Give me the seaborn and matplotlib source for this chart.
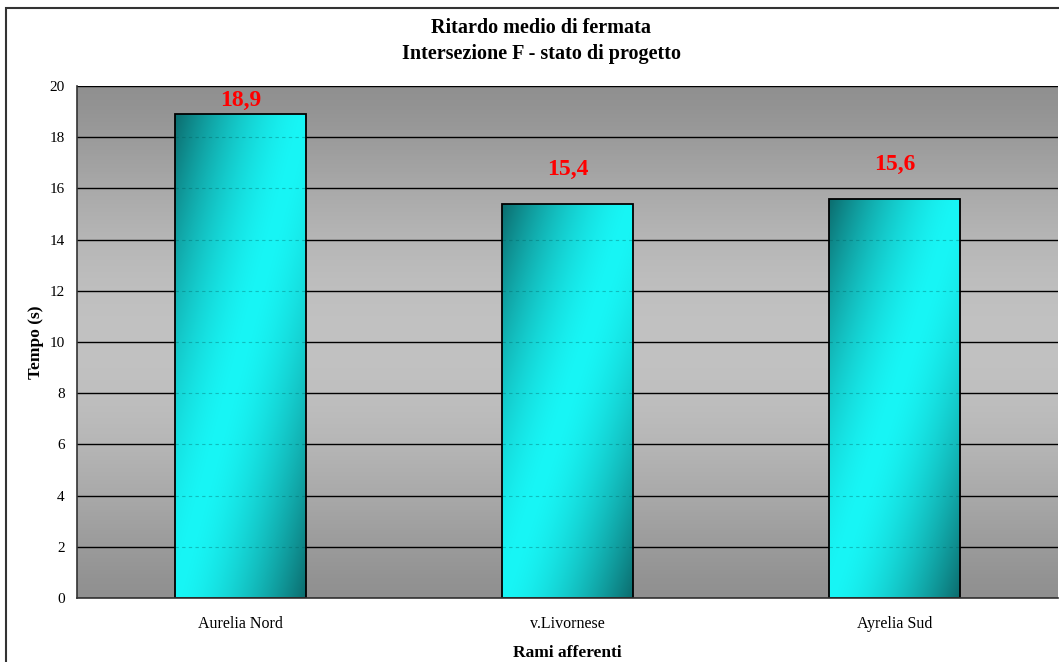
import numpy as np
import pandas as pd
import seaborn as sns
import matplotlib
matplotlib.use('Agg')
import matplotlib.pyplot as plt
from matplotlib.patches import Rectangle


categories = ['Aurelia Nord', 'v.Livornese', 'Ayrelia Sud']
values = [18.9, 15.4, 15.6]
value_labels = ['18,9', '15,4', '15,6']
y_ticks = list(range(0, 21, 2))

title = 'Ritardo medio di fermata\nIntersezione F - stato di progetto'
x_label = 'Rami afferenti'
y_label = 'Tempo (s)'


def bar_gradient(n=200):
    # diagonal gradient: dark top-left and bottom-right, light in the middle
    dark = np.array([0x0c, 0x6c, 0x6e]) / 255
    light = np.array([0x18, 0xf6, 0xf6]) / 255
    x = np.linspace(0, 1, n)
    y = np.linspace(1, 0, n)  # row 0 is the top
    xx, yy = np.meshgrid(x, y)
    d = np.clip(np.abs(xx - yy), 0, 1) ** 1.6
    return light + (dark - light) * d[..., None]


def bg_gradient(n=256):
    # vertical gray gradient, darker at top and bottom
    t = np.linspace(0, 1, n)
    g = 0.565 + (0.76 - 0.565) * np.sin(np.pi * t) ** 1.3
    return np.repeat(g[:, None, None], 3, axis=2).repeat(2, axis=1)


df = pd.DataFrame({'ramo': categories, 'tempo': values})

sns.set_theme(style='white')
plt.rcParams['font.family'] = ['Liberation Serif', 'DejaVu Serif']
plt.rcParams['text.color'] = 'black'
plt.rcParams['axes.labelcolor'] = 'black'
plt.rcParams['xtick.color'] = 'black'
plt.rcParams['ytick.color'] = 'black'

fig = plt.figure(figsize=(10.59, 6.62), dpi=100)
ax = fig.add_axes([77 / 1059, 1 - 598 / 662, 981 / 1059, 512 / 662])

sns.barplot(data=df, x='ramo', y='tempo', color='cyan', width=0.4,
            edgecolor='black', linewidth=1.3, ax=ax, zorder=2)

ax.set_ylim(0, 20)
ax.set_xlim(-0.5, len(categories) - 0.5)
ax.patch.set_visible(False)
ax.imshow(bg_gradient(), extent=[0, 1, 0, 1], transform=ax.transAxes,
          aspect='auto', zorder=0.1)

# gradient fill for each bar, clipped to the bar
grad = bar_gradient()
for p in ax.patches:
    x0, y0 = p.get_x(), p.get_y()
    w, h = p.get_width(), p.get_height()
    p.set_facecolor('none')
    im = ax.imshow(grad, extent=[x0, x0 + w, y0, y0 + h], aspect='auto',
                   zorder=1.5, interpolation='bilinear')
    im.set_clip_path(p)
    hl = ax.hlines(y_ticks[1:], x0, x0 + w, colors=(0, 0.35, 0.35, 0.35),
                   linestyles=(0, (3, 3)), linewidth=0.8, zorder=1.6)
    hl.set_clip_path(p)

# value labels above bars, kept inside the plot area
for i, (v, lab) in enumerate(zip(values, value_labels)):
    ax.text(i, min(v + 1.33, 19.45), lab, ha='center', va='center',
            color='red', fontsize=17, fontweight='bold', zorder=3)

ax.set_yticks(y_ticks)
ax.yaxis.grid(True, color='black', linewidth=1.0)
ax.set_axisbelow(True)
for gl in ax.get_ygridlines():
    gl.set_zorder(0.5)

ax.set_xticks(range(len(categories)))
ax.set_xticklabels(categories, fontsize=11.5)
ax.set_xticks([i - 0.5 for i in range(len(categories) + 1)], minor=True)
ax.tick_params(axis='x', which='major', length=0, pad=13)
ax.tick_params(axis='x', which='minor', length=5, width=1, color='black',
               direction='out')
ax.tick_params(axis='y', length=5, width=1, color='black', direction='out',
               labelsize=11, pad=4)

for s in ['top', 'right']:
    ax.spines[s].set_visible(False)
for s in ['left', 'bottom']:
    ax.spines[s].set_color('#333333')
    ax.spines[s].set_linewidth(1.2)

ax.set_xlabel(x_label, fontsize=12.5, fontweight='bold', labelpad=9)
ax.set_ylabel(y_label, fontsize=12.5, fontweight='bold', labelpad=4)

fig.text(541 / 1059, 1 - 41 / 662, title, ha='center', va='center',
         fontsize=14.5, fontweight='bold', linespacing=1.42)

# outer chart border
fig.patches.append(Rectangle((6 / 1059, -0.05), 1.0, 1 - 8 / 662 + 0.05,
                             transform=fig.transFigure, fill=False,
                             edgecolor='#333333', linewidth=1.5))

plt.savefig('out.png', dpi=100)
plt.close(fig)
